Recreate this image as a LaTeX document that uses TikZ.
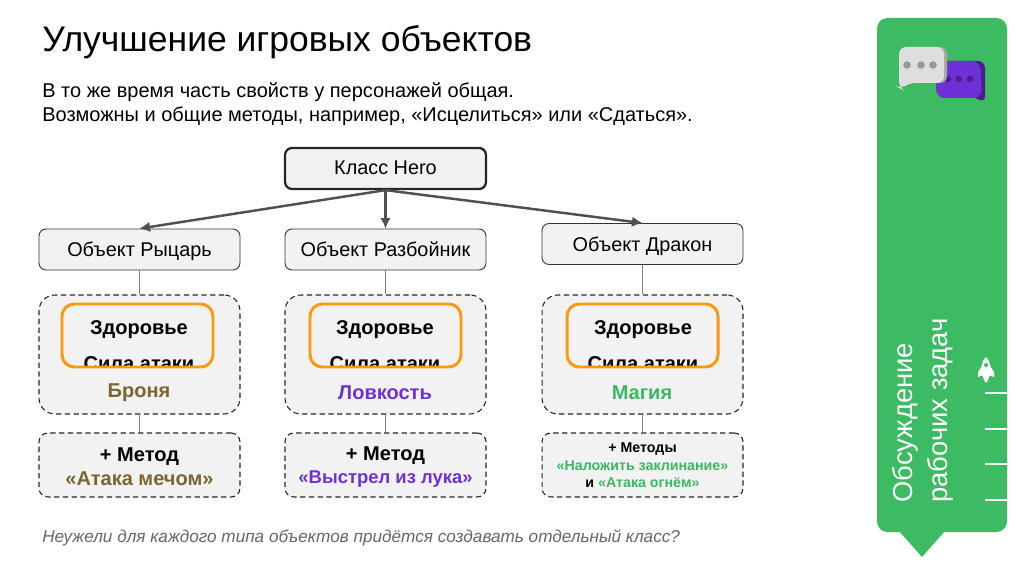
\documentclass[tikz,border=0pt]{standalone}
\usepackage{fontspec}
\setmainfont{Liberation Sans}
\definecolor{panelgreen}{HTML}{3CBB62}
\definecolor{boxgray}{HTML}{F2F2F2}
\definecolor{framegold}{HTML}{F79A12}
\definecolor{knightbrown}{HTML}{7B6530}
\definecolor{roguepurple}{HTML}{7030D8}
\definecolor{dragongreen}{HTML}{3CB764}
\definecolor{linegray}{HTML}{505050}
\tikzset{
    herobox/.style={draw=black!85, line width=1.3pt, fill=boxgray, rounded corners=4pt, minimum width=4.02cm, minimum height=.82cm, font=\fontsize{11.3}{13}\selectfont, text height=9pt, text depth=2pt},
    objbox/.style={draw=black!80, line width=.5pt, fill=boxgray, rounded corners=4pt, minimum width=4.02cm, minimum height=.82cm, font=\fontsize{11.3}{13}\selectfont, text height=10pt, text depth=2pt},
    statbox/.style={draw=black!85, line width=.6pt, dash pattern=on 3pt off 2pt, fill=boxgray, rounded corners=9pt, minimum width=4.02cm, minimum height=2.38cm},
    methodbox/.style={draw=black!85, line width=.6pt, dash pattern=on 3pt off 2pt, fill=boxgray, rounded corners=5pt, minimum width=4.02cm, minimum height=1.28cm},
    goldframe/.style={draw=framegold, line width=1.7pt, rounded corners=7pt},
    stattext/.style={font=\fontsize{11.4}{13}\selectfont\bfseries},
    arrowline/.style={draw=linegray, line width=1.4pt, -{Latex[length=6pt,width=6pt]}},
    linkline/.style={draw=gray, line width=.7pt},
}
\usetikzlibrary{arrows.meta}
\begin{document}
\begin{tikzpicture}[x=0.02cm,y=-0.02cm]
    \useasboundingbox (0,0) rectangle (1024,574);

    %title and text
    \node[anchor=west, inner sep=0, font=\fontsize{20.2}{24}\selectfont] (title) at (42,42) {Улучшение игровых объектов};
    \node[anchor=north west, inner sep=0, align=left, font=\fontsize{11.37}{13.6}\selectfont] (intro) at (42,82) {В то же время часть свойств у персонажей общая.\\Возможны и общие методы, например, «Исцелиться» или «Сдаться».};
    \node[anchor=west, inner sep=0, font=\fontsize{9.77}{12}\selectfont\itshape, text=black!60] (question) at (42,538) {Неужели для каждого типа объектов придётся создавать отдельный класс?};

    %class and objects
    \node[herobox] (hero) at (385.5,168.5) {Класс Hero};
    \node[objbox] (knight) at (139.5,249.5) {Объект Рыцарь};
    \node[objbox] (rogue) at (385.5,249.5) {Объект Разбойник};
    \node[objbox] (dragon) at (642.5,244) {Объект Дракон};

    %properties
    \node[statbox] (knightstat) at (139.5,354.5) {};
    \node[statbox] (roguestat) at (385.5,354.5) {};
    \node[statbox] (dragonstat) at (642.5,354.5) {};

    %methods
    \node[methodbox] (knightmethod) at (139.5,465) {};
    \node[methodbox] (roguemethod) at (385.5,465) {};
    \node[methodbox] (dragonmethod) at (642.5,465) {};
    \node[align=center, font=\fontsize{11.4}{13.6}\selectfont\bfseries] (knightcall) at (139.5,467) {+ Метод\\\textcolor{knightbrown}{«Атака мечом»}};
    \node[align=center, font=\fontsize{11.4}{13.6}\selectfont\bfseries] (roguecall) at (385.5,467) {+ Метод\\\textcolor{roguepurple}{\fontsize{10.5}{13.6}\selectfont«Выстрел из лука»}};
    \node[align=center, font=\fontsize{8.1}{9.9}\selectfont\bfseries] (dragoncall) at (642.5,465.5) {+ Методы\\\textcolor{dragongreen}{«Наложить заклинание»}\\и \textcolor{dragongreen}{«Атака огнём»}};

    %connectors
    \draw[arrowline] (hero.south) -- (knight.north);
    \draw[arrowline] (hero.south) -- (rogue.north);
    \draw[arrowline] (hero.south) -- (dragon.north);
    \draw[linkline] (knight.south) -- (knightstat.north);
    \draw[linkline] (rogue.south) -- (roguestat.north);
    \draw[linkline] (dragon.south) -- (dragonstat.north);
    \draw[linkline] (knightstat.south) -- (knightmethod.north);
    \draw[linkline] (roguestat.south) -- (roguemethod.north);
    \draw[linkline] (dragonstat.south) -- (dragonmethod.north);

    %stats (second line is cut by the frame)
    \node[stattext] (knighthealth) at (139,329.5) {Здоровье};
    \node[stattext] (roguehealth) at (385,329.5) {Здоровье};
    \node[stattext] (dragonhealth) at (643,329.5) {Здоровье};
    \begin{scope}
        \clip (0,300) rectangle (1024,366);
        \node[stattext] (knightpower) at (139,364) {Сила атаки};
        \node[stattext] (roguepower) at (385,364) {Сила атаки};
        \node[stattext] (dragonpower) at (643,364) {Сила атаки};
    \end{scope}
    \draw[goldframe] (62,304) rectangle (213,367);
    \draw[goldframe] (310,304) rectangle (461,367);
    \draw[goldframe] (567,304) rectangle (718,367);
    \node[stattext, text=knightbrown] (knightextra) at (139,393) {Броня};
    \node[stattext, text=roguepurple] (rogueextra) at (385,393) {Ловкость};
    \node[stattext, text=dragongreen] (dragonextra) at (642,393) {Магия};

    %side panel
    \fill[panelgreen, rounded corners=6pt] (877,18) -- (1007,18) -- (1007,532) -- (877,532) -- cycle;
    \fill[panelgreen] (899,531) -- (945,531) -- (922,557) -- cycle;
    \node[rotate=90, anchor=north west, inner sep=0, align=left, text=white, font=\fontsize{15.6}{19.8}\selectfont] (paneltext) at (892,503) {Обсуждение\\рабочих задач};
    \foreach \y in {393,429,464,500}
        \draw[white, line width=.8pt] (985,\y) -- (1007,\y);

    %rocket
    \fill[white] (986,357) .. controls (981,361) and (981,370) .. (982,375) -- (985,382) -- (987,382) -- (990,375) .. controls (991,370) and (991,361) .. (986,357) -- cycle;
    \fill[white] (982,366) -- (978,372) -- (978,377) -- (983,375) -- cycle;
    \fill[white] (990,366) -- (994,372) -- (994,377) -- (989,375) -- cycle;
    \fill[panelgreen] (986,365) circle (2);

    %chat icons
    \fill[roguepurple!65!black, rounded corners=4pt] (940,61) -- (985,61) -- (985,103) -- (972,96) -- (940,96) -- cycle;
    \fill[roguepurple, rounded corners=5pt] (936,61) -- (980,61) -- (982,98) -- (945,98) -- (936,98) -- cycle;
    \fill[roguepurple!65!black] (948,79) circle (3.2) (959,79) circle (3.2) (970,79) circle (3.2);
    \fill[black!35, rounded corners=4pt] (902,47) -- (947,47) -- (947,83) -- (902,83) -- cycle;
    \fill[black!13, rounded corners=4pt] (899,47) -- (944,47) -- (944,83) -- (908,83) -- (901,89) -- (899,88) -- cycle;
    \fill[black!40] (907,65) circle (3.8) (921,65) circle (3.8) (933,65) circle (3.8);
\end{tikzpicture}
\end{document}
